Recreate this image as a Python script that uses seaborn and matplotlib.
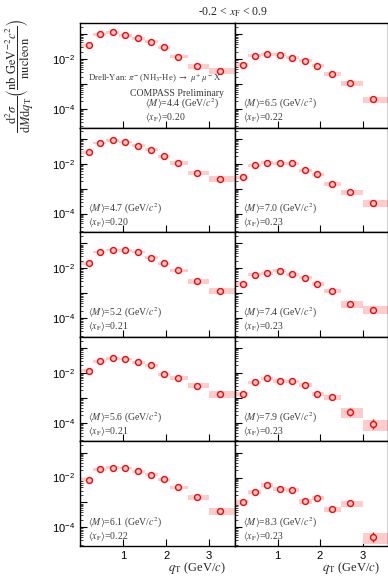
import numpy as np
import matplotlib
matplotlib.use('Agg')
import matplotlib.pyplot as plt
from matplotlib.ticker import FixedLocator, FuncFormatter, NullFormatter
import seaborn as sns

# q_T binning (GeV/c) and bin centres
bin_edges = [0.0, 0.3, 0.6, 0.9, 1.2, 1.5, 1.8, 2.1, 2.5, 3.0, 3.6]
qt = [0.2, 0.47, 0.76, 1.05, 1.34, 1.64, 1.94, 2.28, 2.71, 3.24]

# panel labels, left column top->bottom then right column top->bottom
mean_m = ['4.4', '4.7', '5.2', '5.6', '6.1', '6.5', '7.0', '7.4', '7.9', '8.3']
mean_xf = ['0.20', '0.20', '0.21', '0.21', '0.22', '0.22', '0.23', '0.23', '0.23', '0.23']

# cross sections (nb GeV^-2 c^2 / nucleon)
xs_m44 = [0.037, 0.10, 0.12, 0.091, 0.069, 0.050, 0.030, 0.0126, 0.0052, 0.0034]
xs_m47 = [0.029, 0.069, 0.087, 0.076, 0.053, 0.037, 0.020, 0.011, 0.0044, 0.0025]
xs_m52 = [0.016, 0.046, 0.055, 0.052, 0.045, 0.027, 0.016, 0.0083, 0.0030, 0.00127]
xs_m56 = [0.0124, 0.029, 0.039, 0.036, 0.027, 0.020, 0.0091, 0.0063, 0.0031, 0.00145]
xs_m61 = [0.0081, 0.021, 0.025, 0.024, 0.018, 0.013, 0.0086, 0.0040, 0.00158, 0.00044]
xs_m65 = [0.0059, 0.0138, 0.016, 0.015, 0.0116, 0.0086, 0.0055, 0.0026, 0.0011, 0.00024]
xs_m70 = [0.0028, 0.0086, 0.011, 0.0106, 0.0106, 0.0054, 0.0038, 0.0015, 0.00071, 0.00026]
xs_m74 = [0.0024, 0.0055, 0.0063, 0.0080, 0.0058, 0.0042, 0.0024, 0.00123, 0.00037, 0.00022]
xs_m79 = [0.0014, 0.0042, 0.0061, 0.0048, 0.0047, 0.0033, 0.0014, 0.00103, 0.00027, 0.000089]
xs_m83 = [0.0010, 0.0027, 0.0049, 0.0036, 0.0032, 0.00113, 0.00154, 0.00053, 0.00091, 0.000041]

# relative systematic (boxes) and statistical (bars) uncertainties
sys_m44 = [0.14, 0.12, 0.12, 0.12, 0.12, 0.12, 0.14, 0.16, 0.20, 0.28]
sys_m47 = [0.14, 0.12, 0.12, 0.12, 0.12, 0.12, 0.14, 0.16, 0.20, 0.28]
sys_m52 = [0.14, 0.12, 0.12, 0.12, 0.12, 0.12, 0.14, 0.16, 0.20, 0.30]
sys_m56 = [0.14, 0.12, 0.12, 0.12, 0.12, 0.12, 0.14, 0.16, 0.22, 0.30]
sys_m61 = [0.14, 0.12, 0.12, 0.12, 0.12, 0.12, 0.14, 0.16, 0.22, 0.32]
sys_m65 = [0.15, 0.13, 0.13, 0.13, 0.13, 0.13, 0.15, 0.18, 0.22, 0.30]
sys_m70 = [0.15, 0.13, 0.13, 0.13, 0.13, 0.15, 0.15, 0.18, 0.25, 0.32]
sys_m74 = [0.15, 0.13, 0.13, 0.13, 0.13, 0.15, 0.15, 0.18, 0.28, 0.35]
sys_m79 = [0.18, 0.15, 0.15, 0.15, 0.15, 0.18, 0.18, 0.22, 0.40, 0.50]
sys_m83 = [0.20, 0.18, 0.18, 0.18, 0.18, 0.20, 0.20, 0.25, 0.30, 0.50]

stat_m44 = [0.04] * 10
stat_m47 = [0.04] * 10
stat_m52 = [0.04] * 10
stat_m56 = [0.05] * 10
stat_m61 = [0.05, 0.05, 0.05, 0.05, 0.05, 0.05, 0.06, 0.08, 0.10, 0.20]
stat_m65 = [0.05, 0.05, 0.05, 0.05, 0.05, 0.05, 0.06, 0.08, 0.12, 0.25]
stat_m70 = [0.06, 0.05, 0.05, 0.05, 0.05, 0.06, 0.07, 0.10, 0.15, 0.30]
stat_m74 = [0.06, 0.05, 0.05, 0.05, 0.05, 0.06, 0.07, 0.10, 0.18, 0.30]
stat_m79 = [0.08, 0.06, 0.06, 0.06, 0.06, 0.07, 0.10, 0.12, 0.45, 0.60]
stat_m83 = [0.10, 0.08, 0.07, 0.08, 0.08, 0.12, 0.12, 0.15, 0.20, 0.65]

xs_all = [xs_m44, xs_m47, xs_m52, xs_m56, xs_m61, xs_m65, xs_m70, xs_m74, xs_m79, xs_m83]
sys_all = [sys_m44, sys_m47, sys_m52, sys_m56, sys_m61, sys_m65, sys_m70, sys_m74, sys_m79, sys_m83]
stat_all = [stat_m44, stat_m47, stat_m52, stat_m56, stat_m61, stat_m65, stat_m70, stat_m74, stat_m79, stat_m83]

sns.set_style('ticks')
plt.rcParams['font.family'] = ['Liberation Serif', 'DejaVu Serif']
plt.rcParams['mathtext.fontset'] = 'stix'

W, H = 388, 576
fig = plt.figure(figsize=(W / 100, H / 100), dpi=100)

box_col = '#ffcccc'
mark_col = '#ff0000'
txt_col = '#3a3a3a'
panel_h = 104.6
col_x = [(80, 155), (235, 153)]


def ytick_label(v, pos):
    e = int(round(np.log10(v)))
    if e in (-2, -4):
        return r'$\mathregular{10^{%d}}$' % e
    return ''


widths = np.diff(bin_edges)
for k in range(10):
    col, row = k // 5, k % 5
    x0, w = col_x[col]
    top = 23 + row * panel_h
    ax = fig.add_axes([x0 / W, 1 - (top + panel_h) / H, w / W, panel_h / H])
    y = np.array(xs_all[k])
    s = np.array(sys_all[k])
    st = np.array(stat_all[k])

    # systematic boxes
    ax.bar(bin_edges[:-1], y * 2 * s, bottom=y * (1 - s), width=widths,
           align='edge', color=box_col, linewidth=0, zorder=1)
    # statistical bars
    ax.errorbar(qt, y, yerr=[y * st / (1 + st), y * st], fmt='none',
                ecolor=mark_col, elinewidth=1.0, capsize=0, zorder=2)
    sns.scatterplot(x=qt, y=y, ax=ax, marker='o', s=18, facecolor=box_col,
                    edgecolor=mark_col, linewidth=1.0, zorder=3)

    ax.set_yscale('log')
    ax.set_xlim(0, 3.6)
    ax.set_ylim(10 ** -4.75, 10 ** -0.55)
    ax.yaxis.set_major_locator(FixedLocator([1e-4, 1e-3, 1e-2, 1e-1]))
    ax.yaxis.set_minor_locator(FixedLocator(
        [m * 10.0 ** e for e in range(-5, 0) for m in range(2, 10)]))
    ax.yaxis.set_minor_formatter(NullFormatter())
    ax.set_xticks([1, 2, 3])
    ax.tick_params(which='major', direction='in', length=5, width=0.8,
                   top=False, right=False, labelsize=8, colors='black')
    ax.tick_params(which='minor', direction='in', length=2.5, width=0.6,
                   top=False, right=False)
    for lab in ax.get_xticklabels() + ax.get_yticklabels():
        lab.set_family('Liberation Sans')
    if col == 0:
        ax.yaxis.set_major_formatter(FuncFormatter(ytick_label))
    else:
        ax.yaxis.set_major_formatter(NullFormatter())
    if row < 4:
        ax.set_xticklabels([])
    for sp in ax.spines.values():
        sp.set_linewidth(1.0)
        sp.set_color('black')
    ax.set_xlabel('')
    ax.set_ylabel('')

    tx = 0.42 if k == 0 else 0.05
    ax.text(tx, 0.225, r'$\langle M\rangle$=%s (GeV/$c^{2}$)' % mean_m[k],
            transform=ax.transAxes, fontsize=7, color=txt_col, va='center')
    ax.text(tx, 0.095, r'$\langle x_\mathrm{F}\rangle$=%s' % mean_xf[k],
            transform=ax.transAxes, fontsize=7, color=txt_col, va='center')
    if k == 0:
        ax.text(0.05, 0.47, r'Drell-Yan: $\pi^{-}$ (NH$_3$-He) $\rightarrow$ $\mu^{+}$ $\mu^{-}$ X',
                transform=ax.transAxes, fontsize=6.3, color=txt_col, va='center')
        ax.text(0.32, 0.33, 'COMPASS Preliminary',
                transform=ax.transAxes, fontsize=7, color=txt_col, va='center')

fig.text(233 / W, 1 - 12 / H, r'-0.2 < $x_\mathrm{F}$ < 0.9', ha='center', va='center',
         fontsize=8.5)
for xr in (226, 380):
    fig.text(xr / W, 1 - 568 / H, r'$q_\mathrm{T}$ (GeV/$c$)', ha='right', va='center',
             fontsize=9)
fig.text(20 / W, 1 - 76 / H,
         r'$\dfrac{\mathrm{d}^{2}\sigma}{\mathrm{d}M\mathrm{d}q_\mathrm{T}}'
         r'\left(\dfrac{\mathrm{nb\ GeV}^{-2}c^{2}}{\mathrm{nucleon}}\right)$',
         rotation=90, ha='center', va='center', fontsize=9)

fig.savefig('out.png', dpi=100)
